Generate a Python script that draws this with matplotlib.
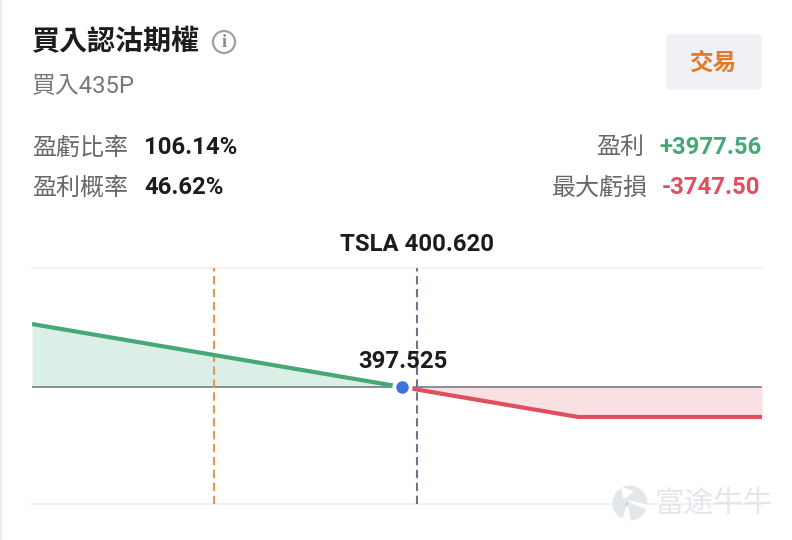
import matplotlib
matplotlib.use("Agg")
import matplotlib.pyplot as plt
from matplotlib.patches import Circle, FancyBboxPatch, Polygon, Rectangle

plt.rcParams["font.family"] = ["Roboto", "Noto Sans CJK TC", "DejaVu Sans"]

# --- Option payoff values ---
prices = [318.8, 397.525, 435.0, 474.1]
payoff = [7872.5, 0.0, -3747.5, -3747.5]
x_range = [318.8, 474.1]
y_range = [-14625, 14875]
grid_levels = [-14625, 0, 14875]

underlying_price = 400.620
breakeven_price = 397.525
target_price = 357.6

ticker_label = "TSLA 400.620"
breakeven_label = "397.525"
title = "買入認沽期權"
subtitle = "買入435P"
left_labels = ["盈虧比率", "盈利概率"]
left_values = ["106.14%", "46.62%"]
right_labels = ["盈利", "最大虧損"]
right_values = ["+3977.56", "-3747.50"]
right_colors = ["#45a876", "#df4f5f"]

W, H = 792, 540
fig = plt.figure(figsize=(W / 100, H / 100), dpi=100, facecolor="white")

# --- Page layer, laid out in pixels ---
page = fig.add_axes([0, 0, 1, 1])
page.set_xlim(0, W)
page.set_ylim(H, 0)
page.axis("off")

page.add_patch(Rectangle((0, 0), 2, H, color="#eeeeee", lw=0))

page.text(32, 43, title, fontsize=20.2, fontweight="bold", color="#1c1c1e", va="center")
page.add_patch(Circle((224, 42), 11, fill=False, ec="#a0a0a0", lw=1.6))
page.text(224, 42.5, "i", fontsize=13, fontweight="bold", color="#8c8c8c", ha="center", va="center",
          family=["Liberation Serif"])
page.text(32, 86, subtitle, fontsize=17.2, color="#77777b", va="center")

# trade button
page.add_patch(FancyBboxPatch((669, 37), 90, 50, boxstyle="round,pad=0,rounding_size=1",
                              fc="#f0f1f5", ec="#f0f1f5", lw=4))
page.text(713.5, 63, "交易", fontsize=17, fontweight="bold", color="#e07b2a",
          ha="center", va="center")

# summary rows
rows_y = [148, 188]
for y, lab, val in zip(rows_y, left_labels, left_values):
    page.text(32, y, lab, fontsize=17.3, color="#68686c", va="center")
    page.text(144, y, val, fontsize=17.2, fontweight="bold", color="#1c1c1e", va="center")
label_right = [644, 648]
value_right = [761.5, 760]
for i, y in enumerate(rows_y):
    page.text(label_right[i], y, right_labels[i], fontsize=17.3, color="#68686c",
              ha="right", va="center")
    page.text(value_right[i], y, right_values[i], fontsize=17.2, fontweight="bold",
              color=right_colors[i], ha="right", va="center")

# --- Payoff chart ---
ax = fig.add_axes([32 / W, 1 - 504 / H, 730 / W, 236 / H])
ax.set_xlim(x_range)
ax.set_ylim(y_range)
ax.patch.set_alpha(0)
ax.axis("off")

for level in grid_levels:
    if level == 0:
        ax.axhline(level, color="#6f7080", lw=1.1, zorder=2)
    else:
        ax.axhline(level, color="#f1f2f4", lw=1.5, zorder=1, clip_on=False)

ax.fill_between(prices[:2], payoff[:2], 0, color="#dcefe6", lw=0, zorder=1)
ax.fill_between(prices[1:], payoff[1:], 0, color="#f9e0e3", lw=0, zorder=1)
ax.plot(prices[:2], payoff[:2], color="#45a876", lw=3.0, zorder=3, solid_capstyle="butt")
ax.plot(prices[1:], payoff[1:], color="#df4f5f", lw=3.0, zorder=3, solid_capstyle="butt",
        solid_joinstyle="round")

ax.axvline(target_price, color="#e8974c", lw=1.5, dashes=(4, 2.2), zorder=2)

# white halo under the breakeven dot cuts the lines around it
ax.plot([breakeven_price], [0], "o", ms=14.5, color="white", mew=0, zorder=4)
ax.axvline(underlying_price, ymin=0, ymax=1, color="#6f7488", lw=1.5, dashes=(4, 2.2), zorder=5)
ax.plot([breakeven_price], [0], "o", ms=9, color="#4170e0", mew=0, zorder=6)

ax.annotate(breakeven_label, (breakeven_price, 0), xytext=(0.5, 18), textcoords="offset points",
            ha="center", va="center", fontsize=17.2, fontweight="bold", color="#1c1c1e", zorder=7)
ax.annotate(ticker_label, (underlying_price, y_range[1]), xytext=(0, 17), textcoords="offset points",
            ha="center", va="center", fontsize=17.2, fontweight="bold", color="#1c1c1e",
            annotation_clip=False)

# --- Watermark ---
wm = "#e3e7eb"
page.add_patch(Circle((630, 503), 17.5, color=wm, lw=0, zorder=10))
page.add_patch(Polygon([(621, 487), (634, 491), (625, 499), (648, 505), (648, 510), (636, 505),
                        (628, 503), (631, 523), (622, 521), (626, 507), (633, 503), (623, 498)],
                       color="white", lw=0, zorder=11))
page.add_patch(Circle((627, 504), 1.6, color="#c9cfd5", lw=0, zorder=12))
page.text(655, 503.5, "富途牛牛", fontsize=21.3, color=wm, va="center", zorder=10,
          family=["Noto Sans CJK SC"])
page.set_zorder(3)
page.patch.set_alpha(0)

fig.savefig("out.png", dpi=100, facecolor="white")
